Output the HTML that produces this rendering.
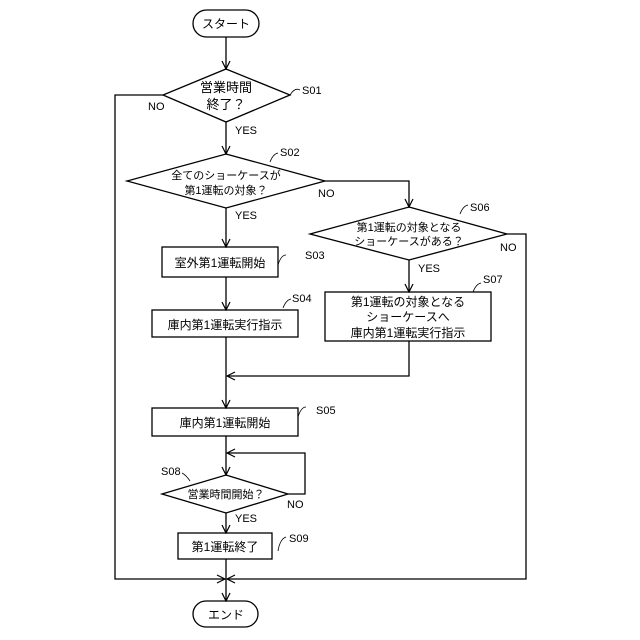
<!DOCTYPE html>
<html><head><meta charset="utf-8"><style>body{margin:0;background:#fff}svg{display:block}</style></head><body>
<svg width="640" height="640" viewBox="0 0 640 640" xmlns="http://www.w3.org/2000/svg" font-family="Liberation Sans, Noto Sans CJK JP, sans-serif" fill="none" stroke="#000" stroke-width="1.3">
<defs><marker id="a" markerWidth="10" markerHeight="10" refX="9" refY="5" orient="auto" markerUnits="userSpaceOnUse"><path d="M1,1 L9,5 L1,9" stroke="#000" fill="none" stroke-width="1.2"/></marker></defs>
<rect x="193" y="10" width="66" height="27" rx="13.5"/>
<rect x="193" y="601" width="65" height="26" rx="13"/>
<polygon points="226,69 290,95 226,122 163,95"/>
<polygon points="226,154 325,181 226,208 127,181"/>
<polygon points="409,207 507,234 409,260 310,234"/>
<polygon points="226,475 288,494 226,513 162,494"/>
<rect x="162" y="247" width="116" height="30"/>
<rect x="152" y="310" width="146" height="27"/>
<rect x="325" y="292" width="166" height="49"/>
<rect x="152" y="408" width="146" height="28"/>
<rect x="178" y="533" width="94" height="26"/>
<g marker-end="url(#a)">
<line x1="226" y1="37" x2="226" y2="69"/>
<line x1="226" y1="122" x2="226" y2="154"/>
<line x1="226" y1="208" x2="226" y2="247"/>
<line x1="226" y1="277" x2="226" y2="310"/>
<line x1="226" y1="337" x2="226" y2="408"/>
<line x1="226" y1="436" x2="226" y2="475"/>
<line x1="226" y1="513" x2="226" y2="533"/>
<line x1="226" y1="559" x2="226" y2="601"/>
<polyline points="325,181 409,181 409,207"/>
<line x1="409" y1="260" x2="409" y2="292"/>
<polyline points="409,341 409,376 227,376"/>
<polyline points="288,494 305,494 305,453 227,453"/>
<polyline points="163,95 115,95 115,579 225,579"/>
<polyline points="507,234 526,234 526,579 227,579"/>
</g>
<g stroke-width="0.8">
<path d="M290,95 q5,-8 10,-5"/><path d="M270,162 q3,-8 8,-9"/><path d="M460,214 q3,-8 8,-9"/>
<path d="M278,265 q3,-10 8,-10"/><path d="M283,308 q3,-8 8,-9"/><path d="M473,292 q3,-8 8,-9"/>
<path d="M298,417 q3,-10 8,-10"/><path d="M182,473 q4,2 8,8"/><path d="M278,551 q2,-12 8,-14"/>
</g>
<g fill="#000" stroke="none" font-size="12" text-anchor="middle">
<text x="226" y="28">スタート</text>
<text x="226" y="619">エンド</text>
<text x="226" y="92" font-size="13">営業時間</text>
<text x="226" y="109" font-size="13">終了？</text>
<text x="226" y="179" font-size="11">全てのショーケースが</text>
<text x="226" y="194" font-size="11">第1運転の対象？</text>
<text x="409" y="231" font-size="11">第1運転の対象となる</text>
<text x="409" y="245" font-size="11">ショーケースがある？</text>
<text x="226" y="498" font-size="11">営業時間開始？</text>
<text x="220" y="267">室外第1運転開始</text>
<text x="225" y="329">庫内第1運転実行指示</text>
<text x="408" y="306">第1運転の対象となる</text>
<text x="408" y="321">ショーケースへ</text>
<text x="408" y="337">庫内第1運転実行指示</text>
<text x="225" y="427">庫内第1運転開始</text>
<text x="225" y="551">第1運転終了</text>
</g>
<g fill="#000" stroke="none" font-size="11">
<text x="302" y="94">S01</text><text x="280" y="156">S02</text><text x="305" y="259">S03</text>
<text x="292" y="302">S04</text><text x="316" y="414">S05</text><text x="470" y="211">S06</text>
<text x="483" y="283">S07</text><text x="161" y="475">S08</text><text x="289" y="542">S09</text>
<text x="148" y="110">NO</text><text x="235" y="134">YES</text>
<text x="318" y="197">NO</text><text x="235" y="219">YES</text>
<text x="500" y="251">NO</text><text x="418" y="272">YES</text>
<text x="287" y="508">NO</text><text x="235" y="522">YES</text>
</g>
</svg>
</body></html>
